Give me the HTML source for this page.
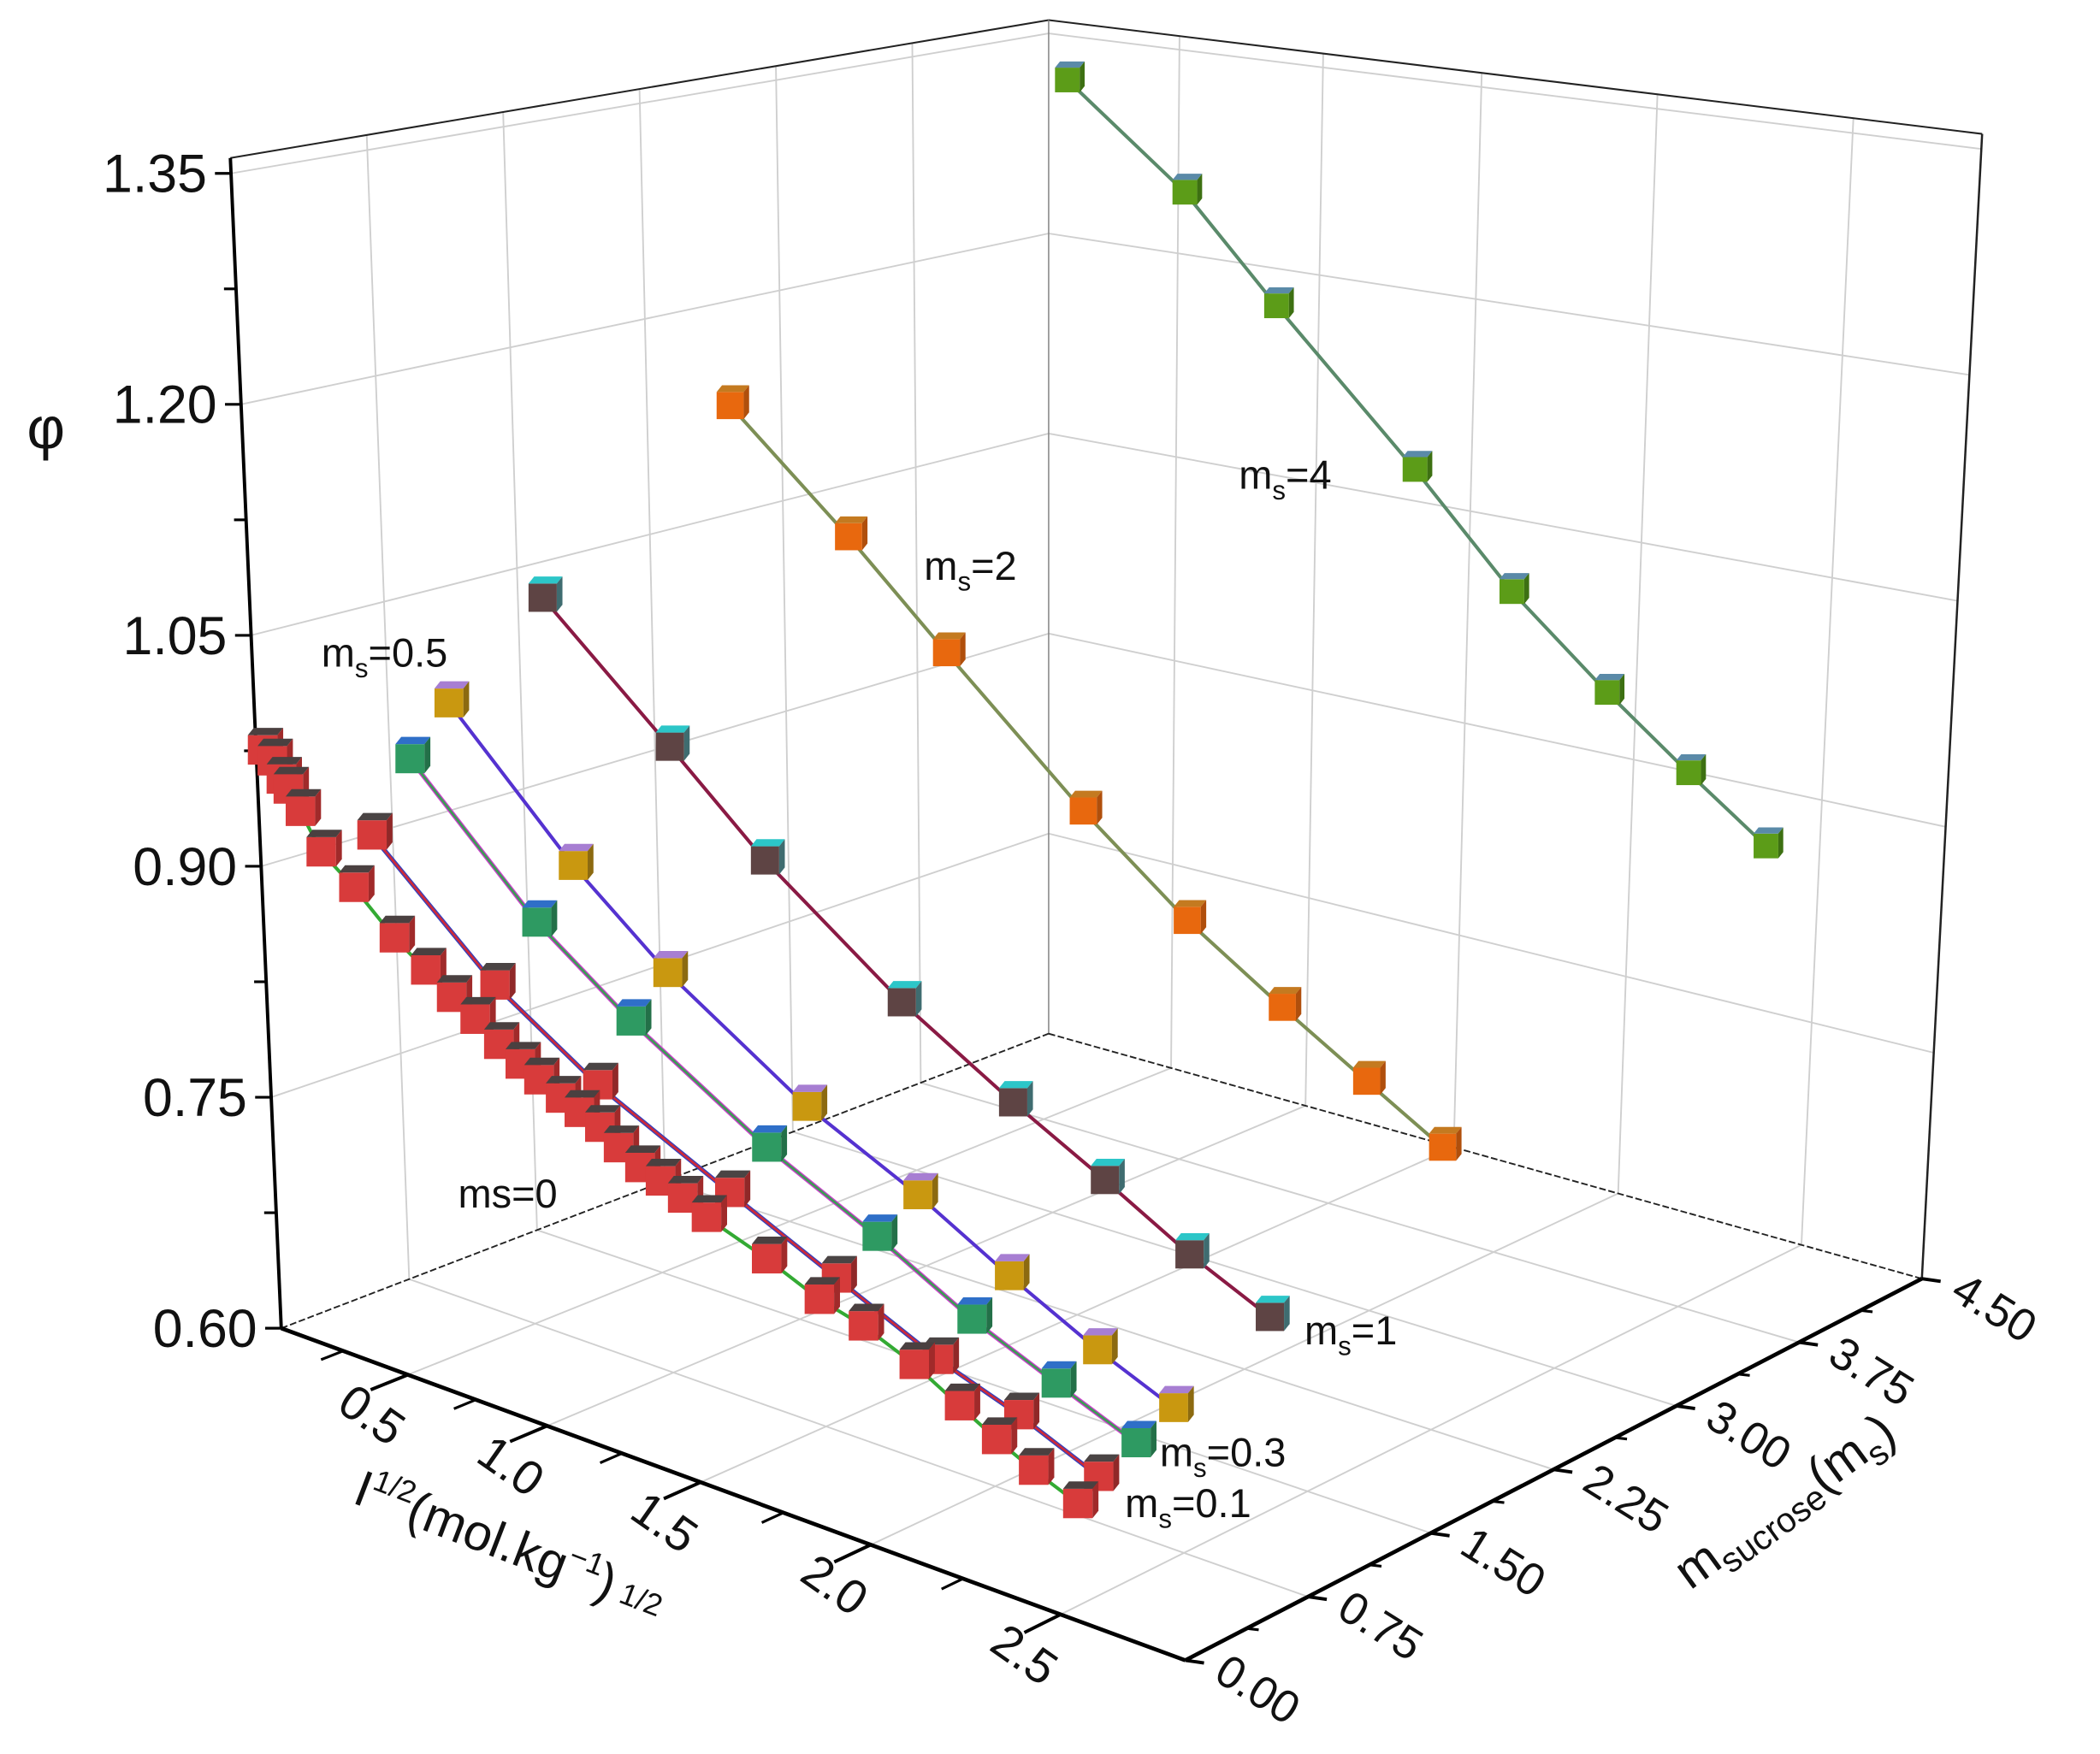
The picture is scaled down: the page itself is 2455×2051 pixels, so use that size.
<!DOCTYPE html>
<html><head><meta charset="utf-8"><style>
html,body{margin:0;padding:0;background:#fff}
svg{display:block}
text{font-family:"Liberation Sans",Arial,sans-serif;fill:#111}
</style></head><body>
<svg id="chart" xmlns="http://www.w3.org/2000/svg" width="2455" height="2051" viewBox="0 0 1568 1310" preserveAspectRatio="none">
<g id="grid"></g>
<g id="frame"></g>
<g id="series"></g>
<g id="labels"></g>
</svg>
<script>
// ---- data ----
const phiTicks = [0.60, 0.75, 0.90, 1.05, 1.20, 1.35];
const phiTickLabels = ["0.60", "0.75", "0.90", "1.05", "1.20", "1.35"];
const iTicks = [0.5, 1.0, 1.5, 2.0, 2.5];
const iTickLabels = ["0.5", "1.0", "1.5", "2.0", "2.5"];
const mTicks = [0, 0.75, 1.5, 2.25, 3.0, 3.75, 4.5];
const mTickLabels = ["0.00", "0.75", "1.50", "2.25", "3.00", "3.75", "4.50"];

const ms4_I = [0.42, 0.84, 1.15, 1.59, 1.88, 2.15, 2.37, 2.57];
const ms4_phi = [1.339, 1.271, 1.201, 1.104, 1.033, 0.978, 0.936, 0.899];
const ms2_I = [0.49, 0.90, 1.22, 1.64, 1.94, 2.20, 2.42, 2.61];
const ms2_phi = [1.169, 1.100, 1.039, 0.958, 0.905, 0.866, 0.834, 0.806];
const ms1_I = [0.44, 0.88, 1.19, 1.61, 1.93, 2.18, 2.40, 2.60];
const ms1_phi = [1.068, 0.994, 0.938, 0.873, 0.831, 0.800, 0.770, 0.747];
const ms05_I = [0.41, 0.84, 1.15, 1.58, 1.90, 2.15, 2.38, 2.57];
const ms05_phi = [1.013, 0.932, 0.882, 0.825, 0.792, 0.760, 0.732, 0.712];
const ms03_I = [0.39, 0.83, 1.14, 1.56, 1.88, 2.14, 2.36, 2.56];
const ms03_phi = [0.982, 0.902, 0.858, 0.806, 0.773, 0.741, 0.719, 0.699];
const ms01_I = [0.37, 0.80, 1.14, 1.55, 1.86, 2.14, 2.35, 2.55];
const ms01_phi = [0.938, 0.867, 0.825, 0.785, 0.754, 0.725, 0.708, 0.687];
const ms0_I = [0.026,0.063,0.096,0.122,0.166,0.241,0.361,0.506,0.617,0.707,0.788,0.868,0.940,1.002,1.073,1.134,1.20,1.259,1.326,1.39,1.458,1.53,1.708,1.859,1.982,2.12,2.24,2.336,2.43,2.54];
const ms0_phi = [0.977,0.972,0.962,0.957,0.945,0.923,0.907,0.883,0.869,0.857,0.848,0.837,0.829,0.823,0.816,0.811,0.806,0.797,0.789,0.785,0.779,0.772,0.759,0.745,0.738,0.725,0.709,0.696,0.685,0.674];
const seriesM = [4, 2, 1, 0.5, 0.3, 0.1, 0];

// ---- projection ----
const I_MAX = 2.8, M_MAX = 4.5, PHI_MIN = 0.6, PHI_MAX = 1.36, WARP = 0.75;
const A=[210,992], B=[885,1240], C=[783,772], D=[1435,955];
const At=[172,118], Bt=[900,340], Ct=[783,15], Dt=[1480,100];
function lerp(p,q,t){return [p[0]+(q[0]-p[0])*t, p[1]+(q[1]-p[1])*t];}
function proj(I,m,phi){
  const u=I/I_MAX;
  const s=WARP*u/(1+(WARP-1)*u);
  const v=m/M_MAX;
  const w=(phi-PHI_MIN)/(PHI_MAX-PHI_MIN);
  const f=lerp(lerp(A,B,s),lerp(C,D,s),v);
  const t=lerp(lerp(At,Bt,s),lerp(Ct,Dt,s),v);
  return lerp(f,t,w);
}
const NS="http://www.w3.org/2000/svg";
function mk(tag,attrs,parent){const e=document.createElementNS(NS,tag);for(const k in attrs)e.setAttribute(k,attrs[k]);parent.appendChild(e);return e;}
const grid=document.getElementById('grid'), frame=document.getElementById('frame'), ser=document.getElementById('series'), lab=document.getElementById('labels');
function seg(p,q,stroke,sw,parent,name,dash){
  const e=mk('line',{x1:p[0],y1:p[1],x2:q[0],y2:q[1],stroke:stroke,'stroke-width':sw},parent);
  if(dash)e.setAttribute('stroke-dasharray',dash);
  
  
  return e;
}
const GC="#cfcfcf";
iTicks.forEach(I=>{seg(proj(I,M_MAX,PHI_MIN),proj(I,M_MAX,PHI_MAX),GC,1.2,grid,'back-wall-gridline-v');});
phiTicks.slice(1).forEach(p=>{seg(proj(0,M_MAX,p),proj(I_MAX,M_MAX,p),GC,1.2,grid,'back-wall-gridline-h');});
mTicks.slice(1,6).forEach(m=>{seg(proj(0,m,PHI_MIN),proj(0,m,PHI_MAX),GC,1.2,grid,'left-wall-gridline-v');});
phiTicks.slice(1).forEach(p=>{seg(proj(0,0,p),proj(0,M_MAX,p),GC,1.2,grid,'left-wall-gridline-h');});
iTicks.forEach(I=>{seg(proj(I,0,PHI_MIN),proj(I,M_MAX,PHI_MIN),GC,1.2,grid,'floor-gridline-i');});
mTicks.slice(1,6).forEach(m=>{seg(proj(0,m,PHI_MIN),proj(I_MAX,m,PHI_MIN),GC,1.2,grid,'floor-gridline-m');});

seg(proj(0,0,PHI_MAX),proj(0,M_MAX,PHI_MAX),"#222",1.3,frame,'top-left-edge');
seg(proj(0,M_MAX,PHI_MAX),proj(I_MAX,M_MAX,PHI_MAX),"#222",1.3,frame,'top-back-edge');
seg(proj(I_MAX,M_MAX,PHI_MIN),proj(I_MAX,M_MAX,PHI_MAX),"#222",1.6,frame,'right-edge');
seg(proj(0,M_MAX,PHI_MIN),proj(0,M_MAX,PHI_MAX),"#888",1,frame,'back-corner-edge');
seg(proj(0,0,PHI_MIN),proj(0,M_MAX,PHI_MIN),"#222",1.2,frame,'floor-left-edge','5,2');
seg(proj(0,M_MAX,PHI_MIN),proj(I_MAX,M_MAX,PHI_MIN),"#222",1.2,frame,'floor-back-edge','5,2');
seg(proj(0,0,PHI_MIN),proj(0,0,PHI_MAX),"#000",2.5,frame,'phi-axis-line');
seg(proj(0,0,PHI_MIN),proj(I_MAX,0,PHI_MIN),"#000",3,frame,'i-axis-line');
seg(proj(I_MAX,0,PHI_MIN),proj(I_MAX,M_MAX,PHI_MIN),"#000",3,frame,'m-axis-line');

phiTicks.forEach((p,i)=>{
  const q=proj(0,0,p);
  seg([q[0]-12,q[1]],q,"#000",2,frame,'phi-tick');
  const t=mk('text',{x:q[0]-18,y:q[1]+14,'font-size':40,'text-anchor':'end'},lab);
  t.textContent=phiTickLabels[i];
  
  
  if(i<phiTicks.length-1){
    const r=proj(0,0,p+0.075);
    seg([r[0]-9,r[1]],r,"#000",2,frame,'phi-minor-tick');
  }
});
iTicks.forEach((I,i)=>{
  const q=proj(I,0,PHI_MIN);
  const e=proj(I,-0.22,PHI_MIN);
  seg(q,e,"#000",2.5,frame,'i-tick');
  const mi=proj(I-0.25,0,PHI_MIN), me=proj(I-0.25,-0.13,PHI_MIN);
  seg(mi,me,"#000",2,frame,'i-minor-tick');
  const lx=q[0]-34, ly=q[1]+40;
  const t=mk('text',{x:lx,y:ly,'font-size':36,'text-anchor':'middle',transform:`rotate(35 ${lx} ${ly})`},lab);
  t.textContent=iTickLabels[i];
  
  
});
mTicks.forEach((m,i)=>{
  const q=proj(I_MAX,m,PHI_MIN);
  seg(q,[q[0]+14,q[1]+2],"#000",2.5,frame,'m-tick');
  if(i<mTicks.length-1){
    const r=proj(I_MAX,m+0.375,PHI_MIN);
    seg(r,[r[0]+9,r[1]+1],"#000",2,frame,'m-minor-tick');
  }
  const lx=q[0]+20, ly=q[1]+14;
  const t=mk('text',{x:lx,y:ly,'font-size':34,'text-anchor':'start',transform:`rotate(32 ${lx} ${ly})`},lab);
  t.textContent=mTickLabels[i];
  
  
});

const styles=[
 {I:ms4_I,p:ms4_phi,line:"#5a8a6a",front:"#5c9c18",top:"#5a8aa8",side:"#3d7012",name:"ms4"},
 {I:ms2_I,p:ms2_phi,line:"#7d8f55",front:"#e8680e",top:"#c47a20",side:"#b04f0c",name:"ms2"},
 {I:ms1_I,p:ms1_phi,line:"#8a1a44",front:"#5e4444",top:"#2cc6c8",side:"#3f6c70",name:"ms1"},
 {I:ms05_I,p:ms05_phi,line:"#5532d0",front:"#c99810",top:"#a77ed2",side:"#8c6a10",name:"ms0.5"},
 {I:ms03_I,p:ms03_phi,line:"#3d9a55",line2:"#d040d0",front:"#2e9a62",top:"#2f6fc8",side:"#237048",name:"ms0.3"},
 {I:ms01_I,p:ms01_phi,line:"#cc2a3a",line2:"#3040c0",front:"#d63a3a",top:"#4a4444",side:"#902828",name:"ms0.1"},
 {I:ms0_I,p:ms0_phi,line:"#33aa33",front:"#d83b3b",top:"#4a4040",side:"#a02a2a",name:"ms0"}
];
styles.forEach((st,k)=>{
  const m=seriesM[k];
  const g=mk('g',{},ser);
  
  
  const pts=st.I.map((I,j)=>proj(I,m,st.p[j]));
  const d=pts.map(p=>p[0].toFixed(1)+","+p[1].toFixed(1)).join(" ");
  if(st.line2){
    const l2=mk('polyline',{points:d,fill:'none',stroke:st.line2,'stroke-width':3.4},g);
    
    
  }
  const l=mk('polyline',{points:d,fill:'none',stroke:st.line,'stroke-width':st.line2?1.8:2.6},g);
  
  
  const sz=22-4*(m/M_MAX), h=sz/2, dx=sz*0.2, dy=sz*0.25;
  pts.forEach(p=>{
    const x=p[0], y=p[1];
    const cg=mk('g',{},g);
    
    
    mk('rect',{x:x-h,y:y-h,width:sz,height:sz,fill:st.front},cg);
    mk('polygon',{points:`${x-h},${y-h} ${x+h},${y-h} ${x+h+dx},${y-h-dy} ${x-h+dx},${y-h-dy}`,fill:st.top},cg);
    mk('polygon',{points:`${x+h},${y-h} ${x+h+dx},${y-h-dy} ${x+h+dx},${y+h-dy} ${x+h},${y+h}`,fill:st.side},cg);
  });
});
</script>
<svg style="position:absolute;left:0;top:0" width="2455" height="2051" viewBox="0 0 1568 1310" preserveAspectRatio="none">
<text x="20" y="335" font-size="44">φ</text>
<text x="262" y="1122" font-size="38" transform="rotate(21 262 1122)">I<tspan dy="-15" font-size="23">1/2</tspan><tspan dy="15">(mol.kg</tspan><tspan dy="-15" font-size="23">−1</tspan><tspan dy="15">)</tspan><tspan dy="-2" font-size="23"> 1/2</tspan></text>
<text x="1262" y="1188" font-size="38" transform="rotate(-36 1262 1188)">m<tspan dy="8" font-size="26">sucrose</tspan><tspan dy="-8">(m</tspan><tspan dy="8" font-size="26">s</tspan><tspan dy="-8">)</tspan></text>
<text x="925" y="365" font-size="30">m<tspan dy="8" font-size="20">s</tspan><tspan dy="-8">=4</tspan></text>
<text x="690" y="433" font-size="30">m<tspan dy="8" font-size="20">s</tspan><tspan dy="-8">=2</tspan></text>
<text x="240" y="498" font-size="30">m<tspan dy="8" font-size="20">s</tspan><tspan dy="-8">=0.5</tspan></text>
<text x="342" y="902" font-size="30">ms=0</text>
<text x="974" y="1004" font-size="30">m<tspan dy="8" font-size="20">s</tspan><tspan dy="-8">=1</tspan></text>
<text x="866" y="1095" font-size="30">m<tspan dy="8" font-size="20">s</tspan><tspan dy="-8">=0.3</tspan></text>
<text x="840" y="1133" font-size="30">m<tspan dy="8" font-size="20">s</tspan><tspan dy="-8">=0.1</tspan></text>
</svg>
</body></html>
